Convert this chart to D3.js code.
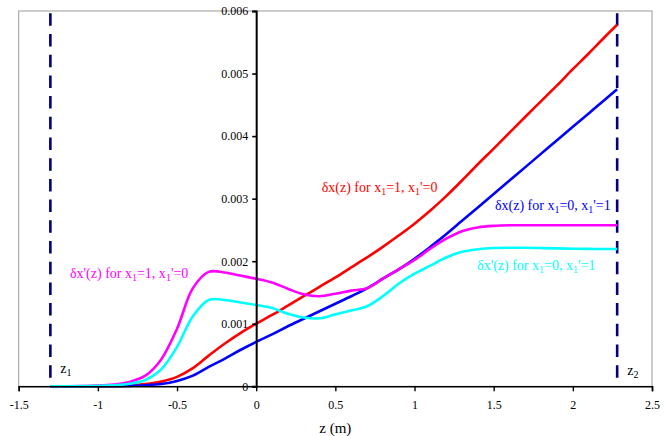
<!DOCTYPE html>
<html>
<head>
<meta charset="utf-8">
<script src="https://cdn.jsdelivr.net/npm/d3@7"></script>
<style>
  html, body { margin: 0; padding: 0; background: #fff; }
  svg, svg text { font-family: "Liberation Serif", "Times New Roman", serif !important; }
  svg { display: block; }
</style>
</head>
<body>
<svg id="chart" width="668" height="436"></svg>
<script>
// Position along the beam axis, z (m)
const zValues = [-1.3, -1.2, -1.1, -1.0, -0.9, -0.8, -0.7, -0.6, -0.5, -0.4, -0.3, -0.2, -0.1,
  0, 0.1, 0.2, 0.3, 0.4, 0.5, 0.6, 0.7, 0.8, 0.9, 1.0, 1.1, 1.2, 1.3, 1.4, 1.5, 1.6, 1.7, 1.8,
  1.9, 2.0, 2.1, 2.2, 2.28];

// Trajectory deviations, in units of 1e-3
const dxX1 = [0, 0, 0.001, 0.003, 0.007, 0.015, 0.035, 0.075, 0.15, 0.29, 0.49, 0.68, 0.85,
  1.0, 1.14, 1.29, 1.44, 1.59, 1.74, 1.90, 2.06, 2.23, 2.41, 2.60, 2.81, 3.04, 3.29, 3.55,
  3.80, 4.055, 4.31, 4.56, 4.81, 5.07, 5.32, 5.58, 5.78];
const dxX1p = [0, 0, 0, 0.001, 0.003, 0.007, 0.017, 0.037, 0.085, 0.17, 0.31, 0.44, 0.58,
  0.71, 0.83, 0.96, 1.08, 1.20, 1.32, 1.44, 1.567, 1.72, 1.87, 2.04, 2.23, 2.43, 2.645, 2.86,
  3.074, 3.29, 3.504, 3.72, 3.934, 4.15, 4.363, 4.578, 4.75];
const dxpX1 = [0, 0.002, 0.005, 0.012, 0.03, 0.07, 0.17, 0.43, 0.92, 1.57, 1.83, 1.82, 1.77,
  1.72, 1.66, 1.56, 1.47, 1.44, 1.48, 1.53, 1.567, 1.72, 1.87, 2.02, 2.20, 2.36, 2.48, 2.54,
  2.565, 2.574, 2.575, 2.575, 2.575, 2.575, 2.575, 2.575, 2.575];
const dxpX1p = [0, 0.001, 0.003, 0.007, 0.018, 0.04, 0.10, 0.27, 0.63, 1.12, 1.38, 1.38, 1.34,
  1.30, 1.25, 1.16, 1.10, 1.087, 1.15, 1.21, 1.28, 1.44, 1.64, 1.80, 1.93, 2.06, 2.15, 2.19,
  2.21, 2.215, 2.215, 2.21, 2.205, 2.20, 2.197, 2.195, 2.195];

// Axis ticks
const xTicks = [-1.5, -1, -0.5, 0, 0.5, 1, 1.5, 2, 2.5];
const yTicks = [0, 0.001, 0.002, 0.003, 0.004, 0.005, 0.006];

// Field boundaries
const zBounds = [{z: -1.3, name: "z", sub: "1"}, {z: 2.28, name: "z", sub: "2"}];

const series = [
  {values: dxX1,   color: "#ff0000", label: ["δx(z) for x", "1", "=1, x", "1", "'=0"], lz: 0.414, lv: 3.11},
  {values: dxX1p,  color: "#0000ff", label: ["δx(z) for x", "1", "=0, x", "1", "'=1"], lz: 1.508, lv: 2.82},
  {values: dxpX1,  color: "#ff00ff", label: ["δx'(z) for x", "1", "=1, x", "1", "'=0"], lz: -1.176, lv: 1.73},
  {values: dxpX1p, color: "#00ffff", label: ["δx'(z) for x", "1", "=0, x", "1", "'=1"], lz: 1.395, lv: 1.86}
];

const FONT = "'Liberation Serif', 'Times New Roman', serif";
const svg = d3.select("#chart");
const x = d3.scaleLinear().domain([-1.5, 2.5]).range([18.7, 652]);
const y = d3.scaleLinear().domain([0, 0.006]).range([386.3, 11]);

// Plot frame
svg.append("rect")
  .attr("x", x(-1.5)).attr("y", y(0.006))
  .attr("width", x(2.5) - x(-1.5)).attr("height", y(0) - y(0.006))
  .attr("fill", "none").attr("stroke", "#999").attr("stroke-width", 1);

// Boundary markers
zBounds.forEach(b => {
  svg.append("line")
    .attr("x1", x(b.z)).attr("x2", x(b.z))
    .attr("y1", y(0.006)).attr("y2", y(0))
    .attr("stroke", "#000080").attr("stroke-width", 2.6)
    .attr("stroke-dasharray", "12.5,8.2").attr("stroke-dashoffset", -2.3);
});

// Curves
const line = d3.line()
  .x((d, i) => x(zValues[i]))
  .y(d => y(d * 1e-3))
  .curve(d3.curveCatmullRom.alpha(0.5));

series.forEach(s => {
  svg.append("path")
    .datum(s.values)
    .attr("d", line)
    .attr("fill", "none")
    .attr("stroke", s.color)
    .attr("stroke-width", 2.6)
    .attr("stroke-linejoin", "round");
});

// X axis along v = 0
const xAxis = svg.append("g")
  .attr("transform", `translate(0,${y(0)})`)
  .call(d3.axisBottom(x).tickValues(xTicks).tickSize(5).tickPadding(9)
    .tickFormat(d => String(d)));
xAxis.attr("font-family", FONT);
xAxis.select(".domain").attr("stroke", "#000").attr("stroke-width", 1.6);
xAxis.selectAll(".tick line").attr("stroke", "#000").attr("stroke-width", 1.4);
xAxis.selectAll("text").attr("font-size", 12).style("font-family", FONT).attr("fill", "#000");

// Y axis along z = 0
const yAxis = svg.append("g")
  .attr("transform", `translate(${x(0)},0)`)
  .call(d3.axisLeft(y).tickValues(yTicks).tickSize(4).tickPadding(4)
    .tickFormat(d => d === 0 ? "0" : d3.format(".3f")(d)));
yAxis.attr("font-family", FONT);
yAxis.select(".domain").attr("stroke", "#000").attr("stroke-width", 2);
yAxis.selectAll(".tick line").attr("stroke", "#000").attr("stroke-width", 1.6);
yAxis.selectAll("text").attr("font-size", 12).style("font-family", FONT).attr("fill", "#000");

// Axis title
svg.append("text")
  .attr("x", x(0.5)).attr("y", 433)
  .attr("text-anchor", "middle")
  .attr("font-size", 15)
  .style("font-family", FONT)
  .text("z (m)");

// Curve labels with subscripts
series.forEach(s => {
  const t = svg.append("text")
    .attr("x", x(s.lz)).attr("y", y(s.lv * 1e-3))
    .attr("font-size", 14)
    .style("font-family", FONT)
    .attr("fill", s.color);
  s.label.forEach((part, i) => {
    const isSub = i % 2 === 1;
    t.append("tspan")
      .attr("font-size", isSub ? 10 : 14)
      .attr("dy", isSub ? 3 : (i === 0 ? 0 : -3))
      .text(part);
  });
});

// Boundary labels
zBounds.forEach((b, i) => {
  const t = svg.append("text")
    .attr("x", x(b.z) + 10)
    .attr("y", i === 0 ? 373 : 374.5)
    .attr("font-size", 14)
    .style("font-family", FONT)
    .attr("fill", "#000");
  t.append("tspan").text(b.name);
  t.append("tspan").attr("font-size", 10).attr("dy", 3).text(b.sub);
});
</script>
</body>
</html>
